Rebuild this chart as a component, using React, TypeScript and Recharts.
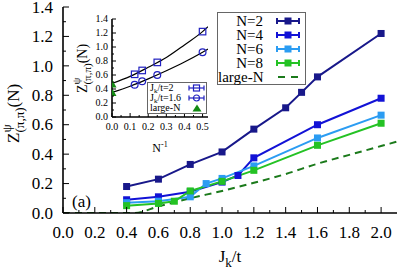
import React from "react";
import { LineChart, Line, XAxis, YAxis } from "recharts";

// main panel: Z(pi,pi) vs Jk/t
const n2Jk = [0.4, 0.6, 0.8, 1.0, 1.2, 1.4, 1.5, 1.6, 2.0];
const n2Z = [0.18, 0.23, 0.33, 0.415, 0.57, 0.715, 0.82, 0.925, 1.22];
const n4Jk = [0.4, 0.6, 0.8, 1.0, 1.1, 1.2, 1.6, 2.0];
const n4Z = [0.09, 0.11, 0.145, 0.21, 0.255, 0.375, 0.6, 0.78];
const n6Jk = [0.4, 0.6, 0.8, 0.9, 1.0, 1.2, 1.6, 2.0];
const n6Z = [0.07, 0.08, 0.11, 0.2, 0.235, 0.32, 0.51, 0.665];
const n8Jk = [0.4, 0.6, 0.7, 0.8, 1.0, 1.2, 1.6, 2.0];
const n8Z = [0.05, 0.065, 0.08, 0.15, 0.215, 0.29, 0.46, 0.61];
const largeNJk = [0.0, 0.45, 0.6, 0.8, 1.0, 1.2, 1.4, 1.6, 1.8, 2.0, 2.1];
const largeNZ = [0.0, 0.0, 0.045, 0.1, 0.15, 0.205, 0.265, 0.335, 0.395, 0.455, 0.485];

const mainXTicks = [0, 0.1, 0.2, 0.3, 0.4, 0.5, 0.6, 0.7, 0.8, 0.9, 1.0, 1.1, 1.2, 1.3, 1.4, 1.5, 1.6, 1.7, 1.8, 1.9, 2.0];
const mainYTicks = [0, 0.1, 0.2, 0.3, 0.4, 0.5, 0.6, 0.7, 0.8, 0.9, 1.0, 1.1, 1.2, 1.3, 1.4];

// inset: Z vs 1/N
const invN = [0.125, 0.1667, 0.25, 0.5];
const zJk2 = [0.61, 0.665, 0.78, 1.22];
const zJk16 = [0.46, 0.51, 0.6, 0.925];
const largeNInset = [0.47, 0.35];
const fitInvN = [0, 0.1, 0.2, 0.3, 0.4, 0.5, 0.53];
const fitJk2 = [0.48, 0.58, 0.71, 0.85, 1.03, 1.22, 1.29];
const fitJk16 = [0.35, 0.44, 0.545, 0.66, 0.785, 0.925, 0.97];

const insetXTicks = [0, 0.05, 0.1, 0.15, 0.2, 0.25, 0.3, 0.35, 0.4, 0.45, 0.5];
const insetYTicks = [0, 0.1, 0.2, 0.3, 0.4, 0.5, 0.6, 0.7, 0.8, 0.9, 1.0, 1.1, 1.2, 1.3, 1.4];

const FONT = '"Liberation Serif", "Times New Roman", serif';

const zip = (xs: number[], ys: number[]) => xs.map((x, i) => ({ x, z: ys[i] }));

const mainSeries = [
  { name: "N=2", color: "#18188a", data: zip(n2Jk, n2Z) },
  { name: "N=4", color: "#1212d6", data: zip(n4Jk, n4Z) },
  { name: "N=6", color: "#2b9cf2", data: zip(n6Jk, n6Z) },
  { name: "N=8", color: "#24c224", data: zip(n8Jk, n8Z) },
];
const largeNData = zip(largeNJk, largeNZ);
const largeNColor = "#1b7a1b";

const insetBlue = "#2020c0";
const insetGreen = "#138a13";

const isMajor = (v: number, step: number) => Math.abs(v / step - Math.round(v / step)) < 1e-6;

// inward ticks, labels only on major ticks
function makeTick(side: string, step: number, majorLen: number, minorLen: number, fontSize: number, gap: number, labels: boolean) {
  return (props: any) => {
    const { x, y, payload } = props;
    const v = payload.value as number;
    const major = isMajor(v, step);
    const len = major ? majorLen : minorLen;
    let line = null;
    let label = null;
    if (side === "bottom") {
      line = <line x1={x} x2={x} y1={y} y2={y - len} stroke="#000" strokeWidth={1} />;
      if (labels && major)
        label = (
          <text x={x} y={y + gap} textAnchor="middle" fontSize={fontSize} fontFamily={FONT} fill="#000">
            {v.toFixed(1)}
          </text>
        );
    } else if (side === "top") {
      line = <line x1={x} x2={x} y1={y} y2={y + len} stroke="#000" strokeWidth={1} />;
    } else if (side === "left") {
      line = <line x1={x} x2={x + len} y1={y} y2={y} stroke="#000" strokeWidth={1} />;
      if (labels && major)
        label = (
          <text x={x - gap} y={y} dy="0.34em" textAnchor="end" fontSize={fontSize} fontFamily={FONT} fill="#000">
            {v.toFixed(1)}
          </text>
        );
    } else {
      line = <line x1={x} x2={x - len} y1={y} y2={y} stroke="#000" strokeWidth={1} />;
    }
    return (
      <g>
        {line}
        {label}
      </g>
    );
  };
}

const squareDot = (color: string, size: number, open: boolean) => (p: any) => (
  <rect
    key={`sq-${p.index}`}
    x={p.cx - size / 2}
    y={p.cy - size / 2}
    width={size}
    height={size}
    fill={open ? "none" : color}
    stroke={color}
    strokeWidth={open ? 1.2 : 0}
  />
);

const circleDot = (color: string) => (p: any) => (
  <circle key={`c-${p.index}`} cx={p.cx} cy={p.cy} r={3.4} fill="none" stroke={color} strokeWidth={1.2} />
);

const triDot = (color: string) => (p: any) => (
  <path key={`t-${p.index}`} d={`M${p.cx},${p.cy - 4.5}L${p.cx + 4.5},${p.cy + 3.5}L${p.cx - 4.5},${p.cy + 3.5}Z`} fill={color} />
);

const frame = { stroke: "#000", strokeWidth: 1.6 };

function MainLegend() {
  const rows = [...mainSeries.map((s) => ({ name: s.name, color: s.color, dashed: false })), { name: "large-N", color: largeNColor, dashed: true }];
  return (
    <div
      style={{
        position: "absolute",
        left: 217,
        top: 12,
        width: 89,
        height: 73,
        border: "1px solid #666",
        background: "#fff",
        boxSizing: "border-box",
        fontFamily: FONT,
        fontSize: 15,
        paddingTop: 1,
      }}
    >
      {rows.map((r, i) => (
        <div key={i} style={{ width: 87, height: 14, display: "flex", alignItems: "center" }}>
          <span style={{ width: 45, textAlign: "right", lineHeight: "14px", whiteSpace: "nowrap" }}>{r.name}</span>
          <svg width={26} height={14} style={{ marginLeft: 13, display: "block" }}>
            {r.dashed ? (
              <g stroke={r.color} strokeWidth={2}>
                <line x1={2} x2={9} y1={7} y2={7} />
                <line x1={15} x2={22} y1={7} y2={7} />
              </g>
            ) : (
              <g stroke={r.color} strokeWidth={2}>
                <line x1={1} x2={23} y1={7} y2={7} />
                <line x1={1} x2={1} y1={4} y2={10} />
                <line x1={23} x2={23} y1={4} y2={10} />
                <rect x={8.5} y={3.5} width={7} height={7} fill={r.color} stroke="none" />
              </g>
            )}
          </svg>
        </div>
      ))}
    </div>
  );
}

function InsetLegend() {
  const rows = [
    { kind: "sq", label: "=2" },
    { kind: "ci", label: "=1.6" },
    { kind: "tri", label: "large-N" },
  ];
  return (
    <div
      style={{
        position: "absolute",
        left: 147,
        top: 82,
        width: 60,
        height: 32,
        border: "1px solid #666",
        background: "#fff",
        boxSizing: "border-box",
        fontFamily: FONT,
        fontSize: 10,
        paddingLeft: 2,
      }}
    >
      {rows.map((r, i) => (
        <div key={i} style={{ width: 56, height: 10, display: "flex", alignItems: "center" }}>
          <span style={{ width: 38, lineHeight: "10px", whiteSpace: "nowrap" }}>
            {r.kind === "tri" ? (
              r.label
            ) : (
              <>
                J<sub style={{ fontSize: 7, verticalAlign: "-2px", lineHeight: 0 }}>k</sub>/t{r.label}
              </>
            )}
          </span>
          <svg width={18} height={10} style={{ display: "block" }}>
            {r.kind === "tri" ? (
              <path d="M9,1.5L13.5,8.5L4.5,8.5Z" fill={insetGreen} />
            ) : (
              <g stroke={insetBlue} strokeWidth={1.2} fill="none">
                <line x1={1} x2={16} y1={5} y2={5} />
                <line x1={1} x2={1} y1={2.5} y2={7.5} />
                <line x1={16} x2={16} y1={2.5} y2={7.5} />
                {r.kind === "sq" ? <rect x={5.5} y={2} width={6} height={6} /> : <circle cx={8.5} cy={5} r={3} />}
              </g>
            )}
          </svg>
        </div>
      ))}
    </div>
  );
}

export default function App() {
  return (
    <div style={{ position: "absolute", left: 0, top: 0, width: 399, height: 270, background: "#fff" }}>
      <LineChart width={399} height={270} margin={{ top: 7, right: 2, bottom: 0, left: 0 }}>
        <XAxis
          xAxisId="b"
          dataKey="x"
          type="number"
          domain={[0, 2.1]}
          ticks={mainXTicks}
          interval={0}
          height={57}
          tickSize={0}
          tickMargin={0}
          tickLine={false}
          axisLine={frame}
          tick={makeTick("bottom", 0.2, 6, 3, 17, 25, true)}
          allowDataOverflow
        />
        <XAxis
          xAxisId="t"
          orientation="top"
          type="number"
          domain={[0, 2.1]}
          ticks={mainXTicks}
          interval={0}
          height={0}
          tickSize={0}
          tickMargin={0}
          tickLine={false}
          axisLine={frame}
          tick={makeTick("top", 0.2, 6, 3, 17, 0, false)}
        />
        <YAxis
          yAxisId="l"
          type="number"
          domain={[0, 1.4]}
          ticks={mainYTicks}
          interval={0}
          width={63}
          tickSize={0}
          tickMargin={0}
          tickLine={false}
          axisLine={frame}
          tick={makeTick("left", 0.2, 6, 3, 17, 10, true)}
          allowDataOverflow
        />
        <YAxis
          yAxisId="r"
          orientation="right"
          type="number"
          domain={[0, 1.4]}
          ticks={mainYTicks}
          interval={0}
          width={0}
          tickSize={0}
          tickMargin={0}
          tickLine={false}
          axisLine={frame}
          tick={makeTick("right", 0.2, 6, 3, 17, 0, false)}
        />
        <Line
          xAxisId="b"
          yAxisId="l"
          data={largeNData}
          dataKey="z"
          type="monotone"
          stroke={largeNColor}
          strokeWidth={2}
          strokeDasharray="7 5"
          dot={false}
          isAnimationActive={false}
        />
        {mainSeries.map((s) => (
          <Line
            key={s.name}
            xAxisId="b"
            yAxisId="l"
            data={s.data}
            dataKey="z"
            name={s.name}
            type="linear"
            stroke={s.color}
            strokeWidth={2}
            dot={squareDot(s.color, 7, false)}
            isAnimationActive={false}
          />
        ))}
      </LineChart>

      {/* axis titles */}
      <svg width={399} height={270} style={{ position: "absolute", left: 0, top: 0, pointerEvents: "none" }}>
        <text x={230} y={262} textAnchor="middle" fontFamily={FONT} fontSize={17}>
          <tspan>J</tspan>
          <tspan fontSize={13} dy={5}>k</tspan>
          <tspan dy={-5}>/t</tspan>
        </text>
        <text x={72} y={207} fontFamily={FONT} fontSize={17}>(a)</text>
        <text transform="translate(19,143) rotate(-90)" fontFamily={FONT} fontSize={17} fill="#000">
          <tspan>Z</tspan>
          <tspan fontSize={13} dy={-8}>ψ</tspan>
          <tspan fontSize={13} dx={-8} dy={13}>(π,π)</tspan>
          <tspan dy={-5}>(N)</tspan>
        </text>
        <text transform="translate(87,93) rotate(-90)" fontFamily={FONT} fontSize={14} fill="#000">
          <tspan>Z</tspan>
          <tspan fontSize={11} dy={-7}>ψ</tspan>
          <tspan fontSize={11} dx={-7} dy={11}>(π,π)</tspan>
          <tspan dy={-4}>(N)</tspan>
        </text>
        <text x={160} y={152} textAnchor="middle" fontFamily={FONT} fontSize={12} fill="#000">
          <tspan>N</tspan>
          <tspan fontSize={8} dy={-5}>-1</tspan>
        </text>
      </svg>

      {/* inset */}
      <div style={{ position: "absolute", left: 0, top: 0 }}>
        <LineChart width={220} height={160} margin={{ top: 19, right: 12, bottom: 0, left: 0 }}>
          <XAxis
            xAxisId="b"
            dataKey="x"
            type="number"
            domain={[0, 0.53]}
            ticks={insetXTicks}
            interval={0}
            height={43}
            tickSize={0}
            tickMargin={0}
            tickLine={false}
            axisLine={frame}
            tick={makeTick("bottom", 0.1, 4, 2, 10, 13, true)}
            allowDataOverflow
          />
          <XAxis
            xAxisId="t"
            orientation="top"
            type="number"
            domain={[0, 0.53]}
            ticks={insetXTicks}
            interval={0}
            height={0}
            tickSize={0}
            tickMargin={0}
            tickLine={false}
            axisLine={frame}
            tick={makeTick("top", 0.1, 4, 2, 10, 0, false)}
          />
          <YAxis
            yAxisId="l"
            type="number"
            domain={[0, 1.4]}
            ticks={insetYTicks}
            interval={0}
            width={112}
            tickSize={0}
            tickMargin={0}
            tickLine={false}
            axisLine={frame}
            tick={makeTick("left", 0.2, 4, 2, 10, 4, true)}
            allowDataOverflow
          />
          <YAxis
            yAxisId="r"
            orientation="right"
            type="number"
            domain={[0, 1.4]}
            ticks={insetYTicks}
            interval={0}
            width={0}
            tickSize={0}
            tickMargin={0}
            tickLine={false}
            axisLine={frame}
            tick={makeTick("right", 0.2, 4, 2, 10, 0, false)}
          />
          <Line xAxisId="b" yAxisId="l" data={zip(fitInvN, fitJk2)} dataKey="z" type="monotone" stroke="#000" strokeWidth={1.2} dot={false} isAnimationActive={false} />
          <Line xAxisId="b" yAxisId="l" data={zip(fitInvN, fitJk16)} dataKey="z" type="monotone" stroke="#000" strokeWidth={1.2} dot={false} isAnimationActive={false} />
          <Line xAxisId="b" yAxisId="l" data={zip(invN, zJk2)} dataKey="z" stroke="none" dot={squareDot(insetBlue, 6.5, true)} isAnimationActive={false} />
          <Line xAxisId="b" yAxisId="l" data={zip(invN, zJk16)} dataKey="z" stroke="none" dot={circleDot(insetBlue)} isAnimationActive={false} />
          <Line xAxisId="b" yAxisId="l" data={zip([0, 0], largeNInset)} dataKey="z" stroke="none" dot={triDot(insetGreen)} isAnimationActive={false} />
        </LineChart>
      </div>

      <MainLegend />
      <InsetLegend />
    </div>
  );
}
